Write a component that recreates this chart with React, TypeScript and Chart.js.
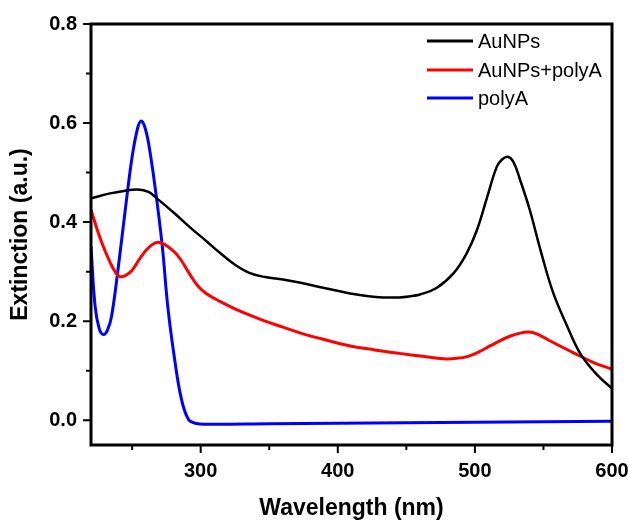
import { useEffect, useRef } from "react";
import { Chart, registerables } from "chart.js";

Chart.register(...registerables);

// ---- Data ----
const aunpsWavelength = [220, 234, 244, 254, 262, 268, 280, 292, 304, 314, 325, 336, 347, 360, 372, 385, 397, 409, 421, 433, 445, 452, 460, 472, 484.5, 494, 501.5, 509, 516, 520, 524, 528, 533, 540, 548, 557, 567, 577, 589, 600];
const aunpsExtinction = [0.448, 0.458, 0.463, 0.466, 0.461, 0.448, 0.42, 0.39, 0.362, 0.338, 0.314, 0.297, 0.289, 0.284, 0.278, 0.27, 0.263, 0.256, 0.251, 0.248, 0.248, 0.25, 0.254, 0.267, 0.297, 0.337, 0.384, 0.451, 0.512, 0.527, 0.532, 0.522, 0.485, 0.425, 0.342, 0.258, 0.192, 0.134, 0.092, 0.064];

const mixWavelength = [220, 227, 234, 238, 241, 245, 250, 256, 263, 270, 280, 286, 292, 298, 304, 314, 325, 336, 347, 360, 373, 390, 409, 427, 445, 462, 477, 487, 495, 503, 511, 526, 539, 547, 555, 572, 587, 600];
const mixExtinction = [0.425, 0.365, 0.318, 0.298, 0.29, 0.292, 0.303, 0.328, 0.351, 0.359, 0.342, 0.322, 0.295, 0.271, 0.256, 0.24, 0.225, 0.212, 0.2, 0.188, 0.176, 0.163, 0.15, 0.142, 0.135, 0.129, 0.124, 0.125, 0.129, 0.138, 0.15, 0.17, 0.178, 0.172, 0.16, 0.136, 0.116, 0.103];

const polyAWavelength = [220, 223, 226, 229, 232, 235, 240, 245, 250, 254, 256.5, 259, 262, 267, 272, 276, 281, 286, 291, 296, 305, 350, 400, 450, 500, 550, 600];
const polyAExtinction = [0.35, 0.23, 0.185, 0.173, 0.182, 0.21, 0.311, 0.425, 0.532, 0.59, 0.604, 0.594, 0.559, 0.465, 0.351, 0.23, 0.123, 0.042, 0.002, -0.006, -0.008, -0.007, -0.006, -0.005, -0.004, -0.003, -0.002];

const seriesLabels = ["AuNPs", "AuNPs+polyA", "polyA"];
const xMajorTicks = [300, 400, 500, 600];
const xMinorTicks = [250, 350, 450, 550];
const yMajorTicks = [0, 0.2, 0.4, 0.6, 0.8];
const yMinorTicks = [0.1, 0.3, 0.5, 0.7];

const FONT = "'Liberation Sans', Arial, Helvetica, sans-serif";

const toPoints = (xs: number[], ys: number[]) => xs.map((x, i) => ({ x, y: ys[i] }));

const frameTicksLegend = {
  id: "frameTicksLegend",
  afterDraw(chart: any) {
    const { ctx, chartArea } = chart;
    const { left, right, top, bottom } = chartArea;
    const xs = chart.scales.x;
    const ys = chart.scales.y;
    ctx.save();
    ctx.strokeStyle = "#000";
    ctx.lineWidth = 3;
    ctx.strokeRect(left, top, right - left, bottom - top);
    ctx.lineWidth = 2;
    ctx.beginPath();
    xMajorTicks.forEach((v) => {
      const p = xs.getPixelForValue(v);
      ctx.moveTo(p, bottom);
      ctx.lineTo(p, bottom + 8);
    });
    xMinorTicks.forEach((v) => {
      const p = xs.getPixelForValue(v);
      ctx.moveTo(p, bottom);
      ctx.lineTo(p, bottom + 5);
    });
    yMajorTicks.forEach((v) => {
      const p = ys.getPixelForValue(v);
      ctx.moveTo(left, p);
      ctx.lineTo(left - 8, p);
    });
    yMinorTicks.forEach((v) => {
      const p = ys.getPixelForValue(v);
      ctx.moveTo(left, p);
      ctx.lineTo(left - 5, p);
    });
    ctx.stroke();

    // legend
    const rows = [17, 46, 74];
    ctx.font = `20px ${FONT}`;
    ctx.textBaseline = "middle";
    ctx.textAlign = "left";
    chart.data.datasets.forEach((ds: any, i: number) => {
      const y = top + rows[i];
      ctx.strokeStyle = ds.borderColor;
      ctx.lineWidth = 3;
      ctx.beginPath();
      ctx.moveTo(right - 185, y);
      ctx.lineTo(right - 139, y);
      ctx.stroke();
      ctx.fillStyle = "#000";
      ctx.fillText(ds.label, right - 134, y + 1);
    });
    ctx.restore();
  },
};

export default function App() {
  const ref = useRef<HTMLCanvasElement | null>(null);
  useEffect(() => {
    if (!ref.current) return;
    const mk = (label: string, data: any[], color: string, width: number) => ({
      label,
      data,
      borderColor: color,
      backgroundColor: color,
      borderWidth: width,
      pointRadius: 0,
      fill: false,
      tension: 0.4,
    });
    const chart = new Chart(ref.current, {
      type: "line",
      data: {
        datasets: [
          mk(seriesLabels[0], toPoints(aunpsWavelength, aunpsExtinction), "#000000", 2.5),
          mk(seriesLabels[1], toPoints(mixWavelength, mixExtinction), "#ff0000", 3),
          mk(seriesLabels[2], toPoints(polyAWavelength, polyAExtinction), "#0000ff", 3),
        ],
      },
      options: {
        responsive: false,
        animation: false,
        devicePixelRatio: 1,
        layout: { padding: { top: 24, right: 16, left: 0, bottom: 0 } },
        plugins: { legend: { display: false }, tooltip: { enabled: false } },
        scales: {
          x: {
            type: "linear",
            min: 220,
            max: 600,
            grid: { display: false, drawTicks: false },
            border: { display: false },
            ticks: {
              stepSize: 50,
              autoSkip: false,
              maxRotation: 0,
              padding: 14,
              color: "#000",
              font: { family: FONT, size: 20, weight: "bold" },
              callback: (v: any) => (xMajorTicks.includes(Number(v)) ? String(v) : ""),
            },
            title: {
              display: true,
              text: "Wavelength (nm)",
              color: "#000",
              font: { family: FONT, size: 23, weight: "bold" },
              padding: { top: 0, bottom: 3 },
            },
            afterFit: (s: any) => {
              s.height = 80;
              s.paddingLeft = 0;
              s.paddingRight = 0;
            },
          },
          y: {
            min: -0.05,
            max: 0.8,
            grid: { display: false, drawTicks: false },
            border: { display: false },
            ticks: {
              stepSize: 0.1,
              autoSkip: false,
              padding: 14,
              color: "#000",
              font: { family: FONT, size: 20, weight: "bold" },
              callback: (v: any) => {
                const n = Number(v) * 10;
                const r = Math.round(n);
                if (Math.abs(n - r) > 1e-6 || r % 2 !== 0) return "";
                return (r / 10).toFixed(1);
              },
            },
            title: {
              display: true,
              text: "Extinction (a.u.)",
              color: "#000",
              font: { family: FONT, size: 23, weight: "bold" },
              padding: { top: 7, bottom: 0 },
            },
            afterFit: (s: any) => {
              s.width = 91;
              s.paddingTop = 0;
              s.paddingBottom = 0;
            },
          },
        },
      },
      plugins: [frameTicksLegend],
    });
    return () => chart.destroy();
  }, []);
  return (
    <div style={{ position: "fixed", left: 0, top: 0, width: 628, height: 525, background: "#fff" }}>
      <canvas ref={ref} width={628} height={525} style={{ display: "block" }} />
    </div>
  );
}
